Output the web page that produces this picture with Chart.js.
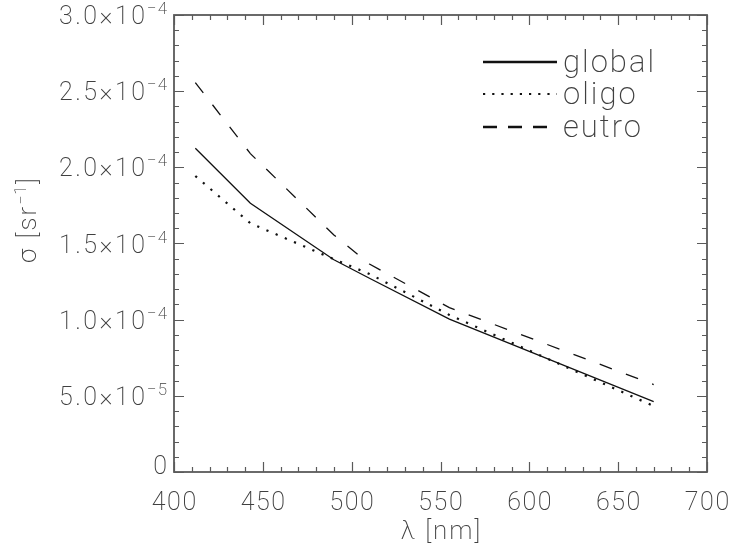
<!DOCTYPE html>
<html><head><meta charset="utf-8">
<script src="https://cdn.jsdelivr.net/npm/chart.js@4/dist/chart.umd.min.js"></script>
<style>html,body{margin:0;padding:0;background:#fff;}#wrap{width:730px;height:546px;}</style>
</head><body><div id="wrap"><canvas id="c" width="730" height="546"></canvas></div>
<script>
// ---- data ----
const wavelengths = [412, 443, 490, 510, 555, 670];
const globalVals = [2.125e-4, 1.764e-4, 1.393e-4, 1.272e-4, 1.004e-4, 0.462e-4];
const oligoVals  = [1.943e-4, 1.633e-4, 1.397e-4, 1.300e-4, 1.031e-4, 0.433e-4];
const eutroVals  = [2.556e-4, 2.090e-4, 1.556e-4, 1.365e-4, 1.079e-4, 0.574e-4];
const seriesNames = ['global', 'oligo', 'eutro'];
const xTicks = [400, 450, 500, 550, 600, 650, 700];
const yTicks = [0, 5e-5, 1e-4, 1.5e-4, 2e-4, 2.5e-4, 3e-4];
const yTickMant = ['0', '5.0', '1.0', '1.5', '2.0', '2.5', '3.0'];
const yTickExp  = ['', '\u22125', '\u22124', '\u22124', '\u22124', '\u22124', '\u22124'];
const xTitle = '\u03bb [nm]';
const yTitleMain = '\u03c3 [sr';
const yTitleSup = '\u22121';
const yTitleEnd = ']';

const FONT = "'Roboto', 'Lato', 'DejaVu Sans', sans-serif";
const W = '200 ';
const TXT = '#404040';
const AX = '#5a5a5a';
const LINE = '#111';
const dashStyles = [[], [2.2, 7.8], [13, 15]];

function pts(vals) { return wavelengths.map((w, i) => ({x: w, y: vals[i]})); }
const allVals = [globalVals, oligoVals, eutroVals];

function setFont(ctx, size, spacing) {
  ctx.font = W + size + 'px ' + FONT;
  ctx.letterSpacing = (spacing || 0) + 'px';
}

const axesPlugin = {
  id: 'idlAxes',
  afterDraw(chart) {
    const ctx = chart.ctx, a = chart.chartArea;
    const xs = chart.scales.x, ys = chart.scales.y;
    ctx.save();
    // box
    ctx.strokeStyle = AX; ctx.lineWidth = 1.8;
    ctx.strokeRect(a.left, a.top, a.right - a.left, a.bottom - a.top);
    ctx.lineWidth = 1.2;
    ctx.beginPath();
    for (let v = xs.min; v <= xs.max + 1e-9; v += 10) {
      const p = Math.round(xs.getPixelForValue(v)) + 0.5;
      const major = xTicks.includes(Math.round(v));
      const L = major ? 10 : 5;
      ctx.moveTo(p, a.bottom); ctx.lineTo(p, a.bottom - L);
      ctx.moveTo(p, a.top); ctx.lineTo(p, a.top + L);
    }
    for (let k = 0; k <= 30; k++) {
      const v = k * 1e-5;
      const p = Math.round(ys.getPixelForValue(v)) + 0.5;
      const L = (k % 5 === 0) ? 10 : 5;
      ctx.moveTo(a.left, p); ctx.lineTo(a.left + L, p);
      ctx.moveTo(a.right, p); ctx.lineTo(a.right - L, p);
    }
    ctx.stroke();

    // tick labels
    ctx.fillStyle = TXT;
    ctx.textBaseline = 'alphabetic';
    setFont(ctx, 25, 1.5);
    ctx.textAlign = 'left';
    xTicks.forEach(t => {
      const s = String(t);
      const w = ctx.measureText(s).width - 1.5;
      ctx.fillText(s, xs.getPixelForValue(t) - w / 2, 510);
    });

    const rightEdge = a.left - 7;
    yTicks.forEach((t, i) => {
      const py = ys.getPixelForValue(t);
      ctx.textAlign = 'left';
      if (!yTickExp[i]) {
        setFont(ctx, 25, 0);
        const w0 = ctx.measureText(yTickMant[i]).width;
        ctx.fillText(yTickMant[i], rightEdge - w0, py + 2);
        return;
      }
      setFont(ctx, 17, 1);
      const wExp = ctx.measureText(yTickExp[i]).width - 1;
      ctx.fillText(yTickExp[i], rightEdge - wExp, py - 1);
      setFont(ctx, 25, 2.5);
      const s = yTickMant[i] + '\u00d710';
      const wm = ctx.measureText(s).width - 2.5;
      ctx.fillText(s, rightEdge - wExp - 2 - wm, py + 9);
    });

    // x title
    setFont(ctx, 26, 2);
    ctx.textAlign = 'left';
    const wt = ctx.measureText(xTitle).width - 2;
    ctx.fillText(xTitle, (a.left + a.right) / 2 - wt / 2, 539);

    // y title (rotated)
    ctx.save();
    ctx.translate(36, 220);
    ctx.rotate(-Math.PI / 2);
    setFont(ctx, 26, 2);
    const w1 = ctx.measureText(yTitleMain).width;
    setFont(ctx, 16, 1);
    const w2 = ctx.measureText(yTitleSup).width;
    setFont(ctx, 26, 2);
    const w3 = ctx.measureText(yTitleEnd).width;
    let x0 = -(w1 + w2 + w3) / 2;
    ctx.textAlign = 'left';
    ctx.fillText(yTitleMain, x0, 0);
    setFont(ctx, 16, 1);
    ctx.fillText(yTitleSup, x0 + w1, -10);
    setFont(ctx, 26, 2);
    ctx.fillText(yTitleEnd, x0 + w1 + w2 + 1, 0);
    ctx.restore();

    // legend
    const legY = [62, 94, 127];
    setFont(ctx, 31, 2);
    ctx.textAlign = 'left';
    seriesNames.forEach((n, i) => {
      ctx.strokeStyle = LINE;
      ctx.lineWidth = i === 1 ? 2.2 : 2.4;
      ctx.setLineDash(i === 2 ? [14, 11] : (i === 1 ? [2.2, 7] : []));
      ctx.beginPath(); ctx.moveTo(483, legY[i]); ctx.lineTo(557, legY[i]); ctx.stroke();
      ctx.setLineDash([]);
      ctx.fillText(n, 563, legY[i] + 10);
    });
    ctx.restore();
  }
};

new Chart(document.getElementById('c'), {
  type: 'line',
  data: {
    datasets: seriesNames.map((n, i) => ({
      label: n,
      data: pts(allVals[i]),
      borderColor: LINE,
      borderWidth: i === 1 ? 2.2 : 1.3,
      borderDash: dashStyles[i],
      pointRadius: 0,
      tension: 0,
      fill: false
    }))
  },
  options: {
    responsive: false,
    animation: false,
    layout: {padding: {left: 174, right: 23, top: 15, bottom: 74}},
    scales: {
      x: {type: 'linear', min: 400, max: 700, display: false},
      y: {type: 'linear', min: 0, max: 3e-4, display: false}
    },
    plugins: {legend: {display: false}, tooltip: {enabled: false}}
  },
  plugins: [axesPlugin]
});
</script>
</body></html>
